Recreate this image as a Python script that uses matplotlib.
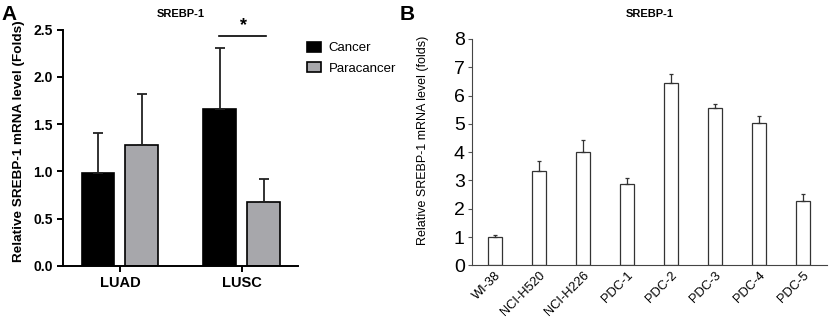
import matplotlib
matplotlib.use("Agg")
import matplotlib.pyplot as plt
import numpy as np

plt.rcParams['font.family'] = ['Liberation Sans', 'DejaVu Sans']

# Panel A data
groups_a = ["LUAD", "LUSC"]
cancer = [0.98, 1.655]
cancer_err = [0.43, 0.65]
paracancer = [1.277, 0.674]
paracancer_err = [0.54, 0.245]
sig_level = 2.43

# Panel B data
cells = ["WI-38", "NCI-H520", "NCI-H226", "PDC-1", "PDC-2", "PDC-3", "PDC-4", "PDC-5"]
cell_vals = [1.01, 3.33, 4.01, 2.88, 6.43, 5.57, 5.02, 2.26]
cell_err = [0.06, 0.34, 0.41, 0.22, 0.33, 0.12, 0.26, 0.26]

fig = plt.figure(figsize=(8.30, 3.22), dpi=100)

# ---------- Panel A ----------
axA = fig.add_axes([0.0759, 0.1748, 0.283, 0.733])
x = np.arange(len(groups_a))
w = 0.27
off = 0.18
gray = "#a7a7ab"
axA.bar(x - off, cancer, w, color="black", edgecolor="black", linewidth=1.2,
        yerr=[np.zeros(2), cancer_err], capsize=3.5,
        error_kw=dict(elinewidth=1.3, capthick=1.3, ecolor="#222222"), label="Cancer")
axA.bar(x + off, paracancer, w, color=gray, edgecolor="black", linewidth=1.2,
        yerr=[np.zeros(2), paracancer_err], capsize=3.5,
        error_kw=dict(elinewidth=1.3, capthick=1.3, ecolor="#222222"), label="Paracancer")
axA.set_xlim(-0.467, 1.459)
axA.set_ylim(0, 2.5)
axA.set_yticks([0, 0.5, 1.0, 1.5, 2.0, 2.5])
axA.set_yticklabels(["0.0", "0.5", "1.0", "1.5", "2.0", "2.5"], fontweight="bold", fontsize=10)
axA.set_xticks(x)
axA.set_xticklabels(groups_a, fontweight="bold", fontsize=10.5)
for s in ["top", "right"]:
    axA.spines[s].set_visible(False)
for s in ["left", "bottom"]:
    axA.spines[s].set_linewidth(1.4)
axA.tick_params(width=1.4, length=4)
axA.set_ylabel("Relative SREBP-1 mRNA level (Folds)", fontweight="bold", fontsize=9.7)
axA.yaxis.set_label_coords(-0.16, 0.526)
axA.set_title("SREBP-1", fontweight="bold", fontsize=8, pad=9)
axA.plot([0.81, 1.197], [sig_level, sig_level], color="black", lw=1.2, clip_on=False)
axA.text(1.01, sig_level + 0.02, "*", ha="center", va="bottom", fontsize=13, fontweight="bold")
axA.legend(loc="upper left", bbox_to_anchor=(0.99, 1.0), frameon=False, fontsize=9.5,
           handlelength=1.0, handleheight=0.8, handletextpad=0.6, labelspacing=0.6)
fig.text(0.002, 0.985, "A", fontsize=15, fontweight="bold", va="top", ha="left")

# ---------- Panel B ----------
axB = fig.add_axes([0.5683, 0.176, 0.4281, 0.703])
xb = np.arange(len(cells))
axB.bar(xb, cell_vals, 0.318, color="white", edgecolor="#333333", linewidth=0.9,
        yerr=[np.zeros(len(cells)), cell_err], capsize=1.2,
        error_kw=dict(elinewidth=0.9, capthick=0.9, ecolor="#333333"))
axB.set_xlim(-0.523, 7.55)
axB.set_ylim(0, 8)
axB.set_yticks(range(0, 9))
axB.tick_params(axis="y", labelsize=14, width=0.8, length=3, pad=2, color="#555555")
axB.set_xticks(xb)
axB.set_xticklabels(cells, rotation=45, ha="right", rotation_mode="anchor", fontsize=9.3)
axB.tick_params(axis="x", length=0, pad=3)
for s in ["top", "right"]:
    axB.spines[s].set_visible(False)
for s in ["left", "bottom"]:
    axB.spines[s].set_linewidth(0.8)
    axB.spines[s].set_color("#444444")
axB.set_ylabel("Relative SREBP-1 mRNA level (folds)", fontsize=9)
axB.yaxis.set_label_coords(-0.12, 0.55)
axB.set_title("SREBP-1", fontweight="bold", fontsize=8, pad=16)
fig.text(0.481, 0.985, "B", fontsize=15, fontweight="bold", va="top", ha="left")

fig.savefig("out.png", dpi=100)
